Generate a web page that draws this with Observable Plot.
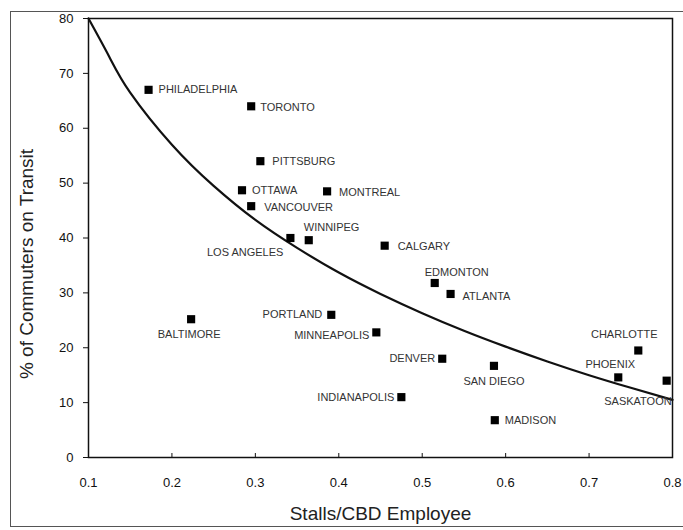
<!DOCTYPE html>
<html><head><meta charset="utf-8">
<script src="https://cdn.jsdelivr.net/npm/d3@7"></script>
<script src="https://cdn.jsdelivr.net/npm/@observablehq/plot@0.6"></script>
<style>
body{margin:0;background:#fff;}
#wrap{position:relative;width:683px;height:530px;overflow:hidden;background:#fff;}
#border{position:absolute;left:10px;top:11px;width:680px;height:516px;border:1.5px solid #555;box-sizing:border-box;}
#chart{position:absolute;left:0;top:0;}
g[aria-label="city"] text{letter-spacing:1.5px;}
g[aria-label="xtitle"] text{letter-spacing:1.5px;}
g[aria-label="ytitle"] text{letter-spacing:2.4px;}
</style></head><body><div id="wrap"><div id="border"></div><div id="chart"></div></div>
<script>
// Data
const cities = ["PHILADELPHIA","TORONTO","PITTSBURG","OTTAWA","MONTREAL","VANCOUVER","LOS ANGELES","WINNIPEG","CALGARY","EDMONTON","ATLANTA","BALTIMORE","PORTLAND","MINNEAPOLIS","DENVER","SAN DIEGO","CHARLOTTE","PHOENIX","SASKATOON","INDIANAPOLIS","MADISON"];
const stalls = [0.172,0.295,0.306,0.284,0.386,0.295,0.342,0.364,0.455,0.515,0.534,0.223,0.391,0.445,0.524,0.586,0.759,0.735,0.793,0.475,0.587];
const transit = [67,64,54,48.7,48.5,45.8,40,39.6,38.6,31.8,29.8,25.2,26,22.8,18,16.7,19.5,14.6,14,11,6.8];

// Fitted trend curve
const trendX = [0.1,0.125,0.15,0.2,0.25,0.3,0.35,0.4,0.45,0.5,0.55,0.6,0.65,0.7,0.75,0.8];
const trendY = [80,73,66.5,57,49.5,43.3,38.2,33.7,29.8,26.3,23.1,20.2,17.5,15.0,12.7,10.5];

const xTicks = [0.1,0.2,0.3,0.4,0.5,0.6,0.7,0.8];
const yTicks = [0,10,20,30,40,50,60,70,80];
const xTitle = "Stalls/CBD Employee";
const yTitle = "% of Commuters on Transit";

// label placement (layout only)
const placement = {
  "PHILADELPHIA":[10,0,"start"],"TORONTO":[9,1,"start"],"PITTSBURG":[12,0,"start"],
  "OTTAWA":[10,0,"start"],"MONTREAL":[12,1,"start"],"VANCOUVER":[13,1,"start"],
  "LOS ANGELES":[-7,14,"end"],"WINNIPEG":[-5,-13,"start"],"CALGARY":[13,1,"start"],
  "EDMONTON":[-10,-11,"start"],"ATLANTA":[12,2,"start"],"BALTIMORE":[-2,15,"middle"],
  "PORTLAND":[-9,0,"end"],"MINNEAPOLIS":[-7,3,"end"],"DENVER":[-7,0,"end"],
  "SAN DIEGO":[0,16,"middle"],"CHARLOTTE":[-14,-16,"middle"],"PHOENIX":[-8,-13,"middle"],
  "SASKATOON":[5,21,"end"],"INDIANAPOLIS":[-7,0,"end"],"MADISON":[10,0,"start"]
};

const data = cities.map((c,i)=>({city:c,x:stalls[i],y:transit[i]}));
const trend = trendX.map((x,i)=>({x,y:trendY[i]}));

const labelMarks = data.map(d=>{
  const [dx,dy,anchor] = placement[d.city];
  return Plot.text([d],{x:"x",y:"y",text:"city",dx,dy,textAnchor:anchor,fontSize:11,fill:"#333",ariaLabel:"city"});
});

const chart = Plot.plot({
  width:683, height:530,
  marginLeft:88, marginRight:11, marginTop:18, marginBottom:73,
  style:{fontFamily:"'Liberation Sans', Arial, sans-serif", background:"transparent", color:"#111"},
  x:{domain:[0.1,0.8]},
  y:{domain:[0,80]},
  marks:[
    Plot.frame({stroke:"#111", strokeWidth:1.5}),
    Plot.axisY({ticks:yTicks, tickSize:5, tickPadding:10, fontSize:13, label:null}),
    Plot.axisX({ticks:xTicks, tickSize:-4, tickPadding:24, fontSize:13, tickFormat:d=>d.toFixed(1), label:null}),
    Plot.line(trend,{x:"x",y:"y",curve:"natural",stroke:"#111",strokeWidth:2.2}),
    Plot.dot(data,{x:"x",y:"y",symbol:"square",r:4.6,fill:"#000",stroke:"none"}),
    ...labelMarks,
    Plot.text([xTitle],{frameAnchor:"bottom",textAnchor:"middle",dy:62,fontSize:19,fill:"#222",ariaLabel:"xtitle"}),
    Plot.text([yTitle],{frameAnchor:"left",textAnchor:"middle",rotate:-90,dx:-62,dy:26,fontSize:19,fill:"#222",ariaLabel:"ytitle"})
  ]
});
document.getElementById("chart").appendChild(chart);
</script>
</body></html>
